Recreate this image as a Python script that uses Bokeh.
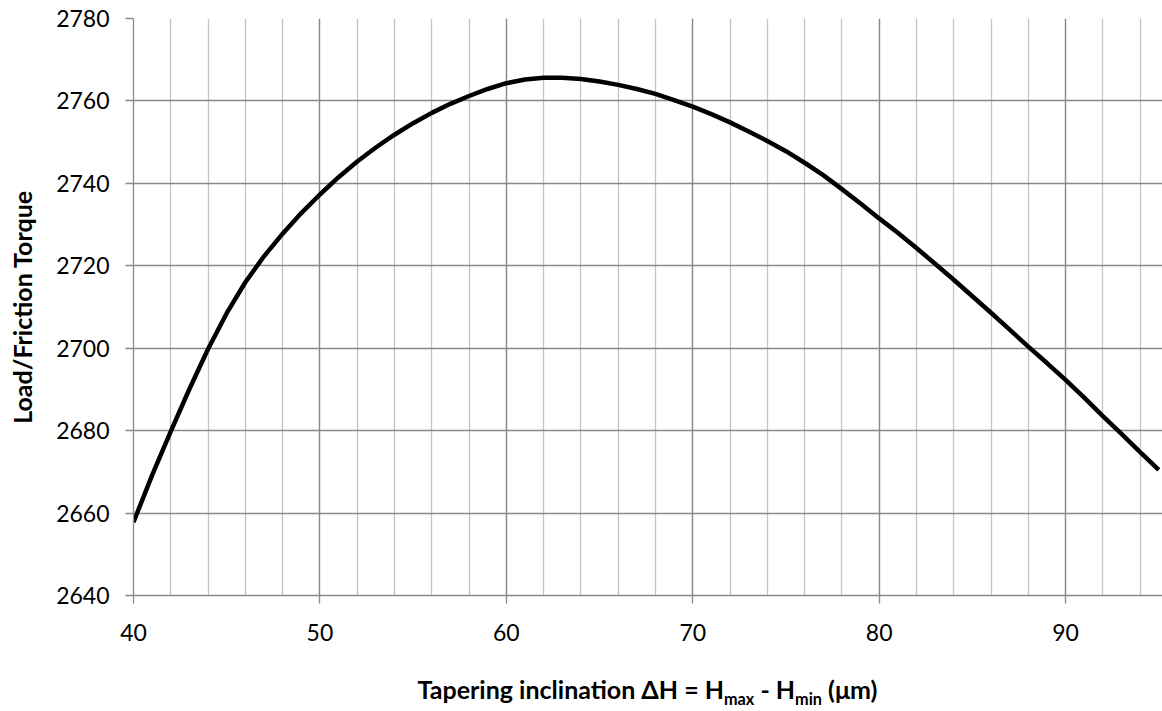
from bokeh.plotting import figure
from bokeh.models import SingleIntervalTicker, Range1d, Div
from bokeh.layouts import column
from bokeh.embed import file_html
from bokeh.resources import INLINE

# Tapering inclination (µm) and load / friction-torque ratio
dh = [40, 41, 42, 43, 44, 45, 46, 47, 48, 49, 50, 51, 52, 53, 54, 55, 56, 57,
      58, 59, 60, 61, 62, 63, 64, 65, 66, 67, 68, 69, 70, 71, 72, 73, 74, 75,
      76, 77, 78, 79, 80, 81, 82, 83, 84, 85, 86, 87, 88, 89, 90, 91, 92, 93,
      94, 95]
ratio = [2657.8, 2669.2, 2679.8, 2690.1, 2699.8, 2708.5, 2716.0, 2722.3,
         2727.8, 2732.8, 2737.3, 2741.5, 2745.3, 2748.7, 2751.8, 2754.6,
         2757.1, 2759.3, 2761.2, 2762.9, 2764.3, 2765.2, 2765.6, 2765.6,
         2765.3, 2764.7, 2763.9, 2762.9, 2761.7, 2760.2, 2758.6, 2756.8,
         2754.8, 2752.6, 2750.3, 2747.8, 2745.0, 2742.0, 2738.6, 2735.1,
         2731.5, 2728.0, 2724.3, 2720.5, 2716.6, 2712.6, 2708.6, 2704.5,
         2700.4, 2696.4, 2692.3, 2688.0, 2683.5, 2679.2, 2674.8, 2670.5]

FONT = "Lato"
GRID_DARK = "#898989"
GRID_LIGHT = "#c3c3c3"

p = figure(width=1162, height=655, output_backend="svg", toolbar_location=None,
           x_range=Range1d(40, 95.2), y_range=Range1d(2640, 2780),
           min_border_left=133, min_border_right=0, min_border_top=18,
           min_border_bottom=60)
p.outline_line_color = None

p.xaxis.ticker = SingleIntervalTicker(interval=10, num_minor_ticks=5)
p.yaxis.ticker = SingleIntervalTicker(interval=20, num_minor_ticks=0)

p.xgrid.grid_line_color = GRID_DARK
p.xgrid.grid_line_width = 1.3
p.xgrid.minor_grid_line_color = GRID_LIGHT
p.xgrid.minor_grid_line_width = 1.3
p.ygrid.grid_line_color = GRID_DARK
p.ygrid.grid_line_width = 1.3

for ax in (p.xaxis, p.yaxis):
    ax.axis_line_color = GRID_DARK
    ax.axis_line_width = 1.3
    ax.major_tick_line_color = GRID_DARK
    ax.major_tick_line_width = 1.3
    ax.major_tick_out = 8
    ax.major_tick_in = 0
    ax.minor_tick_line_color = None
    ax.major_label_text_font = FONT
    ax.major_label_text_font_size = "23px"
    ax.major_label_text_color = "black"

p.xaxis.major_label_standoff = 20
p.yaxis.major_label_standoff = 16

p.yaxis.axis_label = "Load/Friction Torque"
p.yaxis.axis_label_text_font = FONT
p.yaxis.axis_label_text_font_size = "25px"
p.yaxis.axis_label_text_font_style = "bold"
p.yaxis.axis_label_text_color = "black"
p.yaxis.axis_label_standoff = 16

p.line(dh, ratio, line_color="black", line_width=4.5)

xtitle = Div(
    text='Tapering inclination ΔH = H<sub style="font-size:0.65em">max</sub>'
         ' - H<sub style="font-size:0.65em">min</sub> (μm)',
    width=1029, height=36, margin=(17, 0, 0, 133),
    styles={"font-family": FONT, "font-weight": "bold", "font-size": "25px",
            "text-align": "center", "color": "black"})

layout = column(p, xtitle, spacing=0)

open("out.html", "w").write(file_html(layout, INLINE))
